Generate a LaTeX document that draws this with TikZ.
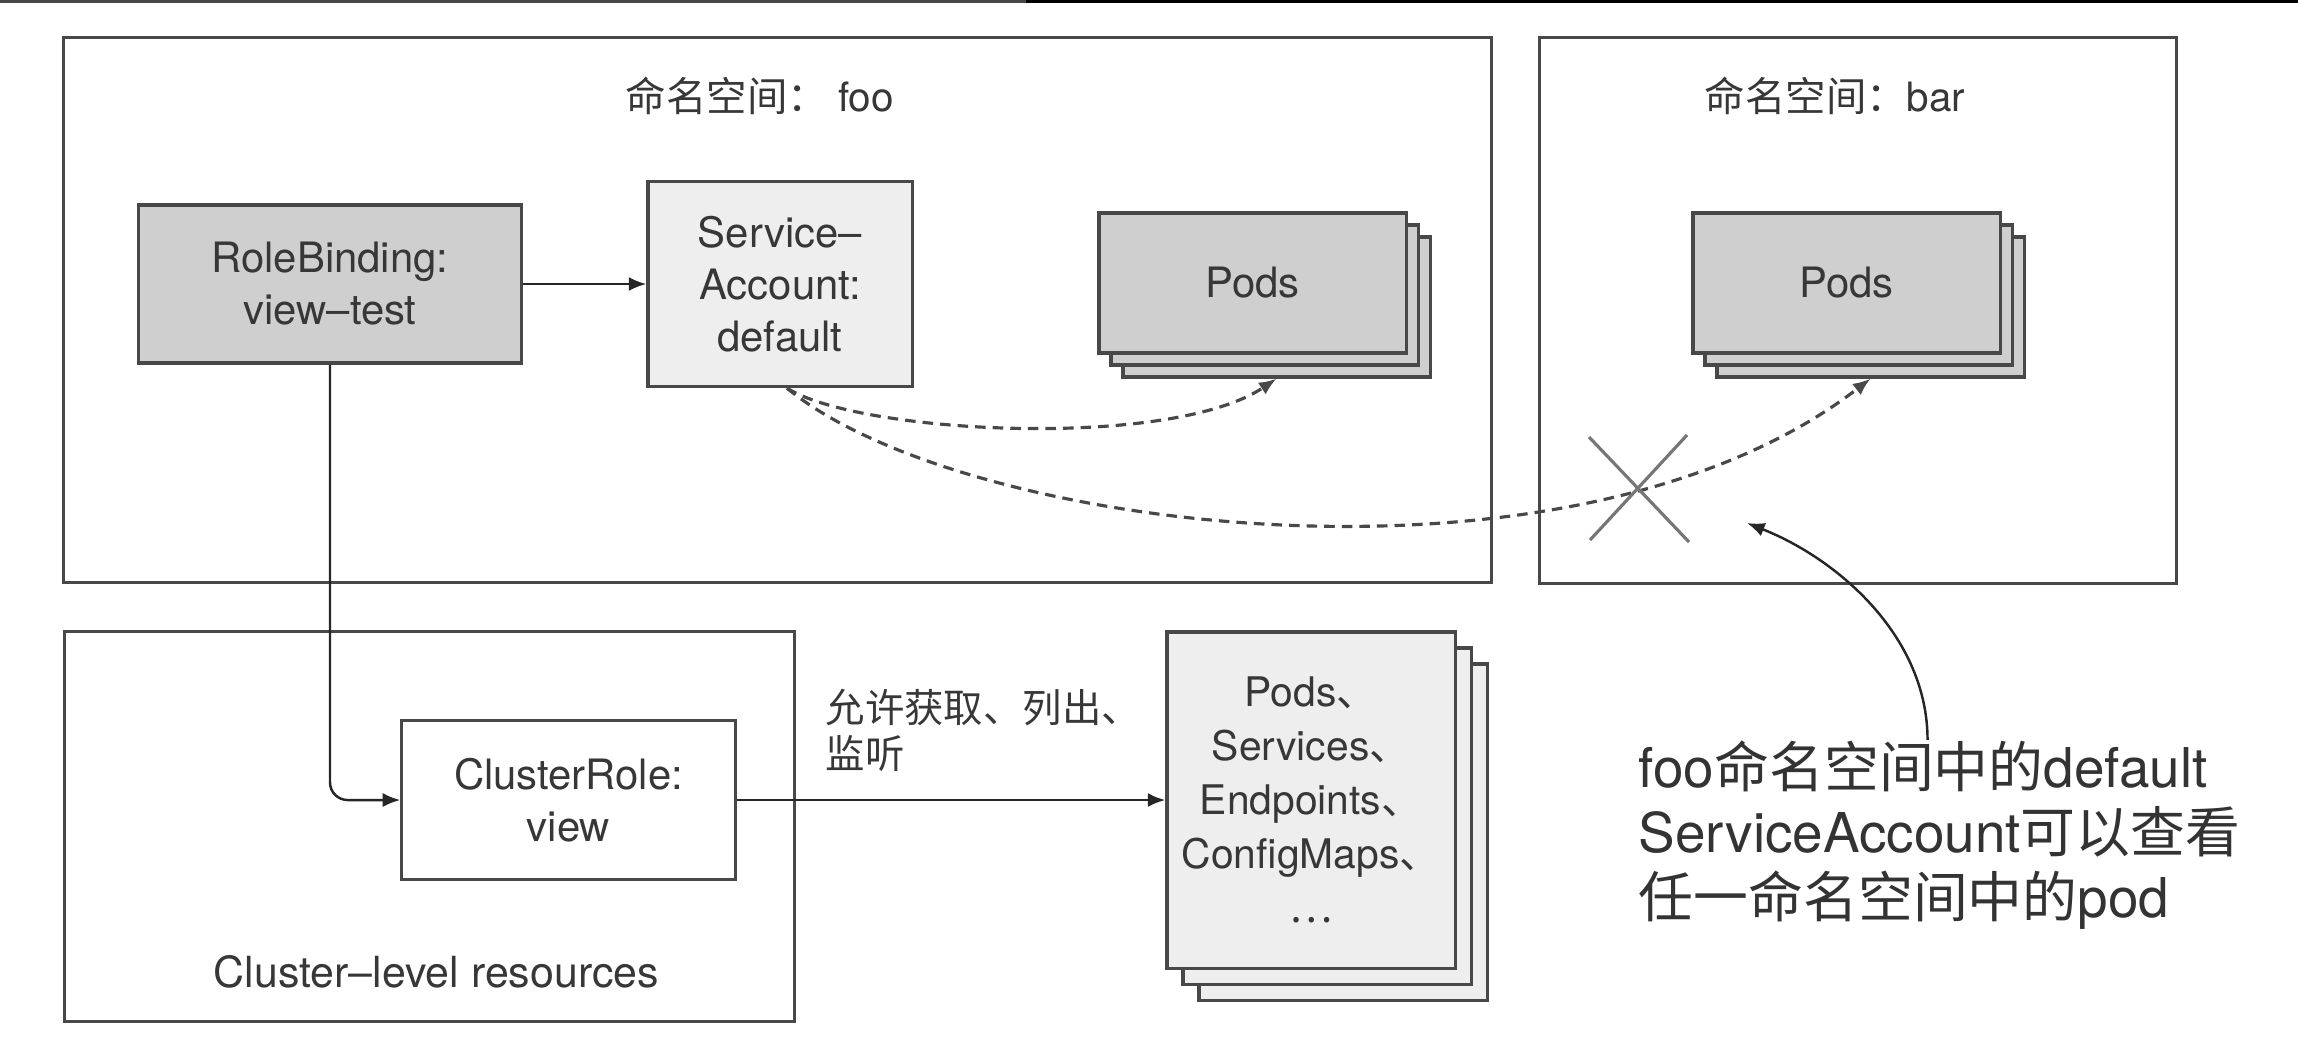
\documentclass[tikz,border=0pt]{standalone}
\usepackage{fontspec}
\setmainfont{TeX Gyre Heros}
\newfontfamily\cjk{Noto Sans CJK SC}
\usetikzlibrary{arrows.meta}
\usetikzlibrary{calc}

\definecolor{linegray}{RGB}{72,72,72}
\definecolor{textgray}{RGB}{55,55,55}
\definecolor{darkfill}{RGB}{207,207,207}
\definecolor{lightfill}{RGB}{238,238,238}
\definecolor{crossgray}{RGB}{118,118,118}

\tikzset{
  frame/.style={draw=linegray,line width=0.9pt,inner sep=0pt},
  kbox/.style={draw=linegray,line width=0.9pt,text=textgray,align=center,
    inner sep=0pt,font=\fontsize{11.9pt}{14.8pt}\selectfont},
  podbox/.style={kbox,fill=darkfill,minimum width=3.07cm,minimum height=1.4cm},
  resbox/.style={kbox,fill=lightfill,minimum width=2.88cm,minimum height=3.36cm,
    font=\fontsize{11.6pt}{15.4pt}\selectfont},
  label/.style={text=textgray,inner sep=0pt,anchor=west},
  conn/.style={draw=black!85,line width=0.7pt,-{Latex[length=5pt,width=4pt]}},
  access/.style={conn,draw=linegray,line width=0.9pt,dash pattern=on 3pt off 2pt},
  cross/.style={draw=crossgray,line width=0.9pt},
}

\begin{document}
\begin{tikzpicture}[x=0.01cm,y=-0.01cm]
\useasboundingbox (0,0) rectangle (2298,1041);
\fill[black!72] (0,0) rectangle (1026,3);
\fill[black] (1026,0) rectangle (2298,3);
% namespaces and cluster scope
\node[frame,minimum width=14.27cm,minimum height=5.44cm] (nsfoo) at (777.5,310) {};
\node[frame,minimum width=6.36cm,minimum height=5.45cm] (nsbar) at (1858,310.5) {};
\node[frame,minimum width=7.29cm,minimum height=3.89cm] (cluster) at (429.5,826.5) {};
\node[label,font=\fontsize{11.5pt}{14pt}\selectfont] (footitle) at (625,96) {{\cjk 命名空间：}\hspace{0.25em}foo};
\node[label,font=\fontsize{11.5pt}{14pt}\selectfont] (bartitle) at (1704,96) {{\cjk 命名空间：}bar};
\node[label,font=\fontsize{12.2pt}{14pt}\selectfont] (clustertitle) at (213,972) {Cluster--level resources};
% objects
\node[kbox,fill=darkfill,minimum width=3.82cm,minimum height=1.58cm] (rb) at (330,284) {RoleBinding:\\view--test};
\node[kbox,fill=lightfill,minimum width=2.64cm,minimum height=2.05cm] (sa) at (780,284) {Service--\\Account:\\default};
\node[podbox] (podsfoo3) at (1276.5,307) {};
\node[podbox] (podsfoo2) at (1264.5,295) {};
\node[podbox] (podsfoo) at (1252.5,283) {Pods};
\node[podbox] (podsbar3) at (1870.5,307) {};
\node[podbox] (podsbar2) at (1858.5,295) {};
\node[podbox] (podsbar) at (1846.5,283) {Pods};
\node[kbox,fill=white,minimum width=3.33cm,minimum height=1.59cm] (cr) at (568.5,800) {ClusterRole:\\view};
\node[resbox] (res3) at (1343,832) {};
\node[resbox] (res2) at (1327,816) {};
\node[resbox] (res) at (1311,800) {Pods{\cjk 、}\\Services{\cjk 、}\\Endpoints{\cjk 、}\\ConfigMaps{\cjk 、}\\{\cjk …}};
\node[label,align=left,font=\fontsize{11.2pt}{13.1pt}\selectfont\cjk] (verbs) at (825,730) {允许获取、列出、\\监听};
\node[label,align=left,text=black!80,font=\fontsize{15.6pt}{18.5pt}\selectfont] (note) at (1638,835)
  {foo{\cjk 命名空间中的}default\\ServiceAccount{\cjk 可以查看}\\{\cjk 任一命名空间中的}pod};
\coordinate (notetip) at (1747,523);
% connectors
\draw[conn] (rb.east) -- (sa.west);
\draw[conn,rounded corners=5pt] (rb.south) |- (cr.west);
\draw[conn] (cr.east) -- (res.west);
\draw[access] ([xshift=0.07cm]sa.south) .. controls +(73,46) and +(-106,71) .. (podsfoo3.south);
\draw[access] ([xshift=0.07cm]sa.south) .. controls +(173,143) and +(-300,231) .. (podsbar3.south);
\draw[cross] (1589,437) -- (1689,542) (1687,435) -- (1590,540);
\draw[conn] ([xshift=-0.12cm]note.north) .. controls +(0,-102) and +(93,37) .. (notetip);
\end{tikzpicture}
\end{document}
